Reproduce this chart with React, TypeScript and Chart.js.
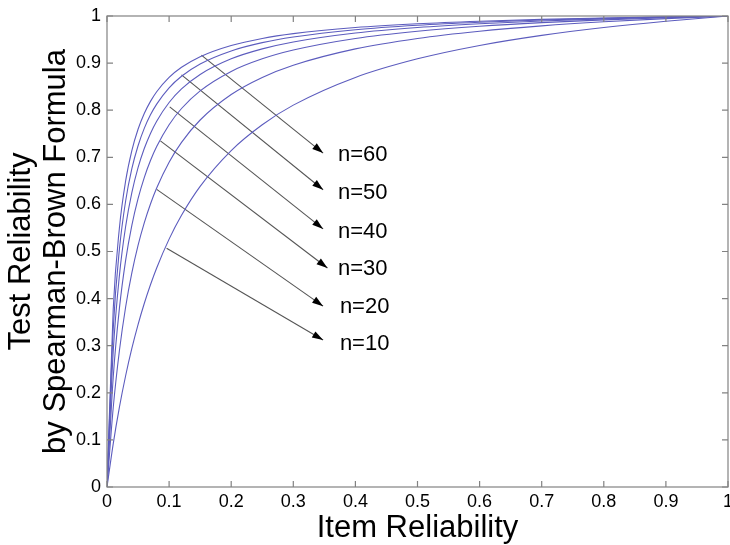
import { useEffect, useRef } from "react";
import { Chart, registerables } from "chart.js";

Chart.register(...registerables);

const FONT = "'Liberation Sans', Arial, Helvetica, sans-serif";

// Item reliability (x) sample points
const itemReliability = [0, 0.01, 0.02, 0.03, 0.04, 0.05, 0.06, 0.07, 0.08, 0.1, 0.12, 0.15, 0.2, 0.25, 0.3, 0.4, 0.5, 0.6, 0.7, 0.8, 0.9, 1];

// Test reliability
const testN10 = [0, 0.0917, 0.1695, 0.2362, 0.2941, 0.3448, 0.3896, 0.4294, 0.4651, 0.5263, 0.5769, 0.6383, 0.7143, 0.7692, 0.8108, 0.8696, 0.9091, 0.9375, 0.9589, 0.9756, 0.989, 1];
const testN20 = [0, 0.1681, 0.2899, 0.3822, 0.4545, 0.5128, 0.5607, 0.6009, 0.6349, 0.6897, 0.7317, 0.7792, 0.8333, 0.8696, 0.8955, 0.9302, 0.9524, 0.9677, 0.979, 0.9877, 0.9945, 1];
const testN30 = [0, 0.2326, 0.3797, 0.4813, 0.5556, 0.6122, 0.6569, 0.6931, 0.7229, 0.7692, 0.8036, 0.8411, 0.8824, 0.9091, 0.9278, 0.9524, 0.9677, 0.9783, 0.9859, 0.9917, 0.9963, 1];
const testN40 = [0, 0.2878, 0.4494, 0.553, 0.625, 0.678, 0.7186, 0.7507, 0.7767, 0.8163, 0.8451, 0.8759, 0.9091, 0.9302, 0.9449, 0.9639, 0.9756, 0.9836, 0.9894, 0.9938, 0.9972, 1];
const testN50 = [0, 0.3356, 0.5051, 0.6073, 0.6757, 0.7246, 0.7614, 0.7901, 0.813, 0.8475, 0.8721, 0.8982, 0.9259, 0.9434, 0.9554, 0.9709, 0.9804, 0.9868, 0.9915, 0.995, 0.9978, 1];
const testN60 = [0, 0.3774, 0.5505, 0.6498, 0.7143, 0.7595, 0.793, 0.8187, 0.8392, 0.8696, 0.8911, 0.9137, 0.9375, 0.9524, 0.9626, 0.9756, 0.9836, 0.989, 0.9929, 0.9959, 0.9982, 1];

const seriesNames = ["n=10", "n=20", "n=30", "n=40", "n=50", "n=60"];

// Annotation arrows (data coordinates)
const arrowStartX = [0.096, 0.08, 0.086, 0.101, 0.12, 0.152];
const arrowStartY = [0.507, 0.632, 0.735, 0.807, 0.875, 0.917];
const arrowEndX = [0.348, 0.348, 0.355, 0.348, 0.348, 0.348];
const arrowEndY = [0.312, 0.384, 0.465, 0.548, 0.631, 0.709];

// Annotation label anchors (data coordinates)
const labelX = [0.375, 0.375, 0.372, 0.372, 0.372, 0.372];
const labelY = [0.304, 0.382, 0.463, 0.541, 0.624, 0.705];

const tickValues = [0, 0.1, 0.2, 0.3, 0.4, 0.5, 0.6, 0.7, 0.8, 0.9, 1];
const tickLabels = ["0", "0.1", "0.2", "0.3", "0.4", "0.5", "0.6", "0.7", "0.8", "0.9", "1"];

const CURVE_COLOR = "rgb(92,92,190)";
const ARROW_COLOR = "rgb(85,85,85)";
const AXIS_COLOR = "rgb(130,130,130)";

const annotationPlugin = {
  id: "annotations",
  afterDatasetsDraw(chart: any) {
    const ctx = chart.ctx;
    const xs = chart.scales.x;
    const ys = chart.scales.y;
    ctx.save();
    for (let i = 0; i < seriesNames.length; i++) {
      const x0 = xs.getPixelForValue(arrowStartX[i]);
      const y0 = ys.getPixelForValue(arrowStartY[i]);
      const x1 = xs.getPixelForValue(arrowEndX[i]);
      const y1 = ys.getPixelForValue(arrowEndY[i]);
      const ang = Math.atan2(y1 - y0, x1 - x0);
      const len = 11;
      const hw = 3.6;
      const bx = x1 - len * Math.cos(ang);
      const by = y1 - len * Math.sin(ang);
      ctx.fillStyle = "#000";
      ctx.beginPath();
      ctx.moveTo(x1, y1);
      ctx.lineTo(bx + hw * Math.sin(ang), by - hw * Math.cos(ang));
      ctx.lineTo(bx - hw * Math.sin(ang), by + hw * Math.cos(ang));
      ctx.closePath();
      ctx.fill();
      ctx.fillStyle = "#000";
      ctx.font = "22px " + FONT;
      ctx.textAlign = "left";
      ctx.textBaseline = "middle";
      ctx.fillText(seriesNames[i], xs.getPixelForValue(labelX[i]), ys.getPixelForValue(labelY[i]));
    }
    ctx.restore();
  },
  afterDraw(chart: any) {
    const ctx = chart.ctx;
    const { left, right, top, bottom } = chart.chartArea;
    const xs = chart.scales.x;
    const ys = chart.scales.y;
    ctx.save();
    ctx.strokeStyle = AXIS_COLOR;
    ctx.lineWidth = 1.2;
    ctx.strokeRect(left, top, right - left, bottom - top);
    ctx.beginPath();
    const t = 6;
    for (const v of tickValues) {
      const px = xs.getPixelForValue(v);
      ctx.moveTo(px, bottom);
      ctx.lineTo(px, bottom - t);
      ctx.moveTo(px, top);
      ctx.lineTo(px, top + t);
      const py = ys.getPixelForValue(v);
      ctx.moveTo(left, py);
      ctx.lineTo(left + t, py);
      ctx.moveTo(right, py);
      ctx.lineTo(right - t, py);
    }
    ctx.stroke();
    ctx.restore();
  },
};

export default function App() {
  const canvasRef = useRef<HTMLCanvasElement | null>(null);

  useEffect(() => {
    const canvas = canvasRef.current;
    if (!canvas) return;
    const curves = [testN10, testN20, testN30, testN40, testN50, testN60];
    const curveSets = curves.map((vals, i) => ({
      label: seriesNames[i],
      data: itemReliability.map((x, j) => ({ x, y: vals[j] })),
      borderColor: CURVE_COLOR,
      borderWidth: 1.1,
      pointRadius: 0,
      cubicInterpolationMode: "monotone",
      fill: false,
    }));
    const arrowSets = seriesNames.map((name, i) => ({
      label: "arrow " + name,
      data: [
        { x: arrowStartX[i], y: arrowStartY[i] },
        { x: arrowEndX[i], y: arrowEndY[i] },
      ],
      borderColor: ARROW_COLOR,
      borderWidth: 1.1,
      pointRadius: 0,
      tension: 0,
      fill: false,
    }));

    const chart = new Chart(canvas, {
      type: "line",
      data: { datasets: [...curveSets, ...arrowSets] as any },
      options: {
        animation: false,
        responsive: false,
        layout: { padding: { top: 16, right: 2, left: 0, bottom: 0 } },
        plugins: { legend: { display: false }, tooltip: { enabled: false } },
        scales: {
          x: {
            type: "linear",
            min: 0,
            max: 1,
            grid: { display: false, drawTicks: false },
            border: { display: false },
            afterBuildTicks: (scale: any) => {
              scale.ticks = tickValues.map((v) => ({ value: v }));
            },
            ticks: {
              font: { family: FONT, size: 18 },
              color: "#000",
              padding: 4,
              maxRotation: 0,
              autoSkip: false,
              callback: (v: any) => tickLabels[tickValues.indexOf(Math.round(Number(v) * 10) / 10)] ?? "",
            },
            title: {
              display: true,
              text: "Item Reliability",
              color: "#000",
              font: { family: FONT, size: 31, lineHeight: 1 },
              padding: { top: 0, bottom: 1 },
            },
            afterFit: (scale: any) => {
              scale.height = 58;
              scale.paddingLeft = 0;
              scale.paddingRight = 0;
            },
          },
          y: {
            type: "linear",
            min: 0,
            max: 1,
            grid: { display: false, drawTicks: false },
            border: { display: false },
            afterBuildTicks: (scale: any) => {
              scale.ticks = tickValues.map((v) => ({ value: v }));
            },
            ticks: {
              font: { family: FONT, size: 18 },
              color: "#000",
              padding: 6,
              autoSkip: false,
              callback: (v: any) => tickLabels[tickValues.indexOf(Math.round(Number(v) * 10) / 10)] ?? "",
            },
            title: {
              display: true,
              text: ["Test Reliability", "by Spearman-Brown Formula"],
              color: "#000",
              font: { family: FONT, size: 31, lineHeight: 1.13 },
              padding: { top: 4, bottom: 0 },
            },
            afterFit: (scale: any) => {
              scale.width = 107;
              scale.paddingTop = 0;
              scale.paddingBottom = 0;
            },
          },
        },
      },
      plugins: [annotationPlugin],
    });
    return () => chart.destroy();
  }, []);

  return (
    <div style={{ position: "absolute", left: 0, top: 0, width: 730, height: 545, background: "#fff" }}>
      <canvas ref={canvasRef} width={730} height={545} />
    </div>
  );
}
